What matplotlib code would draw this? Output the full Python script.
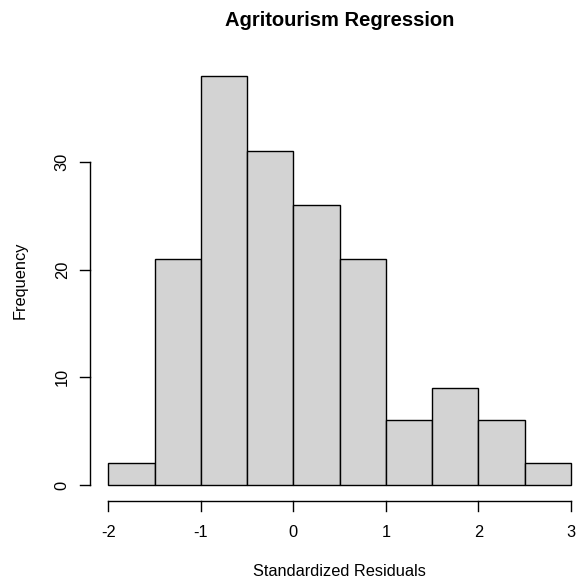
import matplotlib
matplotlib.use("Agg")
import matplotlib.pyplot as plt
import numpy as np

breaks = [-2.0, -1.5, -1.0, -0.5, 0.0, 0.5, 1.0, 1.5, 2.0, 2.5, 3.0]
counts = [2, 21, 38, 31, 26, 21, 6, 9, 6, 2]
xticks = [-2, -1, 0, 1, 2, 3]
yticks = [0, 10, 20, 30]

plt.rcParams['font.family'] = ['Liberation Sans', 'DejaVu Sans']
W, H = 579, 582
fig = plt.figure(figsize=(W/100, H/100), dpi=100)

# pixel mapping: x=-2 -> 108.3, x=3 -> 571 ; y=0 -> 485, 10.77 px/unit
xpx = 92.54
x0px = 108.3
ypx = 10.77
y0px = 485
xlim = (-2.2, 3.2)
ylim = (-1.52, 39.52)
left = x0px + (xlim[0] + 2) * xpx
right = x0px + (xlim[1] + 2) * xpx
bottom = y0px - ylim[0] * ypx
top = y0px - ylim[1] * ypx
ax = fig.add_axes([left / W, 1 - bottom / H, (right - left) / W, (bottom - top) / H])
ax.set_xlim(*xlim)
ax.set_ylim(*ylim)

widths = np.diff(breaks)
ax.bar(breaks[:-1], counts, width=widths, align='edge', color='#d3d3d3',
       edgecolor='black', linewidth=1.0)

for s in ax.spines.values():
    s.set_visible(False)
ax.set_xticks([])
ax.set_yticks([])

# R-style axes drawn manually
lw = 1.0
ax.plot([xticks[0], xticks[-1]], [ylim[0], ylim[0]], color='black', lw=lw, clip_on=False)
for t in xticks:
    ax.plot([t, t], [ylim[0], ylim[0] - 9.5 / ypx], color='black', lw=lw, clip_on=False)
    ax.text(t, ylim[0] - 31 / ypx, str(t), ha='center', va='center', fontsize=11.8)
ax.plot([xlim[0], xlim[0]], [yticks[0], yticks[-1]], color='black', lw=lw, clip_on=False)
for t in yticks:
    ax.plot([xlim[0], xlim[0] - 9.5 / xpx], [t, t], color='black', lw=lw, clip_on=False)
    ax.text(xlim[0] - 27.5 / xpx, t, str(t), ha='center', va='center', rotation=90, fontsize=11.8)

fig.text((left + right) / 2 / W, 1 - 20 / H, 'Agritourism Regression', ha='center', va='center',
         fontsize=14.5, fontweight='bold')
fig.text((left + right) / 2 / W, 1 - 572 / H, 'Standardized Residuals', ha='center', va='center',
         fontsize=11.8)
fig.text(20 / W, 1 - ((top + bottom) / 2) / H, 'Frequency', ha='center', va='center',
         rotation=90, fontsize=11.8)

fig.savefig('out.png', dpi=100)
